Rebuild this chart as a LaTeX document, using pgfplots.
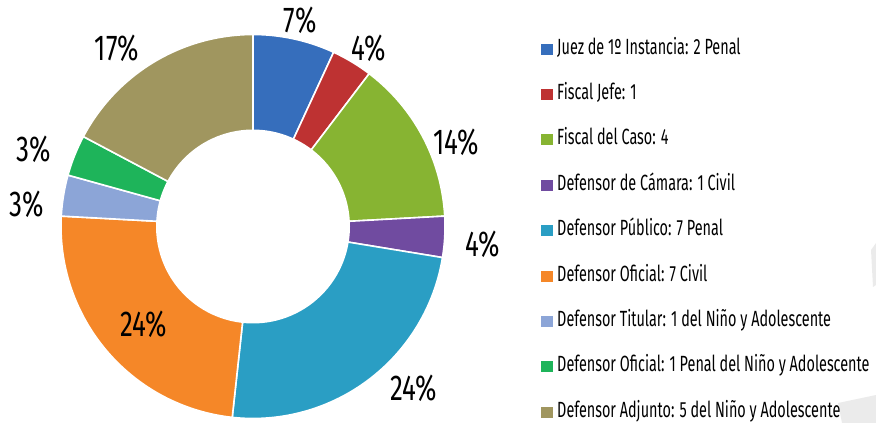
\documentclass[border=0pt]{standalone}
\usepackage{fontspec}
\usepackage{pgfplots}
\usepackage{pgfplotstable}
\pgfplotsset{compat=1.18}
\newfontfamily\legfont{Fira Sans}[FakeStretch=0.655]
\newfontfamily\pctfont{Fira Sans}[FakeStretch=0.72]
\definecolor{seg0}{RGB}{54,110,188}
\definecolor{seg1}{RGB}{190,50,50}
\definecolor{seg2}{RGB}{135,180,50}
\definecolor{seg3}{RGB}{112,75,160}
\definecolor{seg4}{RGB}{42,158,196}
\definecolor{seg5}{RGB}{245,135,40}
\definecolor{seg6}{RGB}{140,165,215}
\definecolor{seg7}{RGB}{30,180,90}
\definecolor{seg8}{RGB}{160,150,95}
\pgfplotstableread{
val
2
1
4
1
7
7
1
1
5
}\data
\pgfplotstablecreatecol[create col/expr accum={\pgfmathaccuma + \thisrow{val}}{0}]{cum}\data
\def\cx{253}
\def\cy{196.5}
\def\ro{192}
\def\ri{97}
\def\tot{29}
\begin{document}
\begin{tikzpicture}
\begin{axis}[
  width=876pt, height=423pt, scale only axis,
  xmin=0, xmax=876, ymin=0, ymax=423,
  hide axis, clip=false,
  legend image code/.code={\path[#1, draw=none] (0pt,-5.5pt) rectangle (12pt,5.5pt);},
  legend style={at={(0.6176,0.9078)}, anchor=north west, draw=none, fill=none,
    inner sep=0pt, row sep=25.4pt, font=\legfont\fontsize{22}{24}\selectfont,
    nodes={inner sep=1pt, text height=14pt, text depth=4pt},
    /tikz/every odd column/.append style={column sep=3pt}},
  legend cell align=left,
]
\fill[black!8] (axis cs:871,173) -- (axis cs:876,180) -- (axis cs:876,138) -- (axis cs:873,136) -- cycle;
\fill[black!8] (axis cs:838,20) -- (axis cs:876,28) -- (axis cs:876,0) -- (axis cs:842,0) -- cycle;
\pgfplotsinvokeforeach{0,...,8}{
  \pgfplotstablegetelem{#1}{cum}\of\data
  \pgfmathsetmacro\cE{90-360*\pgfplotsretval/\tot}
  \pgfplotstablegetelem{#1}{val}\of\data
  \pgfmathsetmacro\cS{\cE+360*\pgfplotsretval/\tot}
  \edef\tmp{\noexpand\addplot[fill=seg#1, draw=white, line width=1.6pt, domain=\cE:\cS, samples=80, variable=\noexpand\t]
    ({\cx+\ro*cos(\noexpand\t)},{\cy+\ro*sin(\noexpand\t)}) -- (axis cs:\cx,\cy) -- cycle;}
  \tmp
}
\addplot[fill=white, draw=none, domain=0:360, samples=120] ({\cx+\ri*cos(x)},{\cy+\ri*sin(x)}) -- cycle;
\legend{Juez de 1º Instancia: 2 Penal, Fiscal Jefe: 1, Fiscal del Caso: 4, Defensor de Cámara: 1 Civil, Defensor Público: 7 Penal, Defensor Oficial: 7 Civil, Defensor Titular: 1 del Niño y Adolescente, Defensor Oficial: 1 Penal del Niño y Adolescente, Defensor Adjunto: 5 del Niño y Adolescente}
\begin{scope}[every node/.style={font=\pctfont\fontsize{36}{38}\selectfont, inner sep=0pt}]
\node at (axis cs:300,403) {7\%};
\node at (axis cs:369,375) {4\%};
\node at (axis cs:456,281) {14\%};
\node at (axis cs:483,179) {4\%};
\node at (axis cs:414,35) {24\%};
\node at (axis cs:144,99) {24\%};
\node at (axis cs:27,219) {3\%};
\node at (axis cs:34,274) {3\%};
\node at (axis cs:117,375) {17\%};
\end{scope}
\end{axis}
\pgfresetboundingbox
\path (0,0) rectangle (876pt,423pt);
\end{tikzpicture}
\end{document}
